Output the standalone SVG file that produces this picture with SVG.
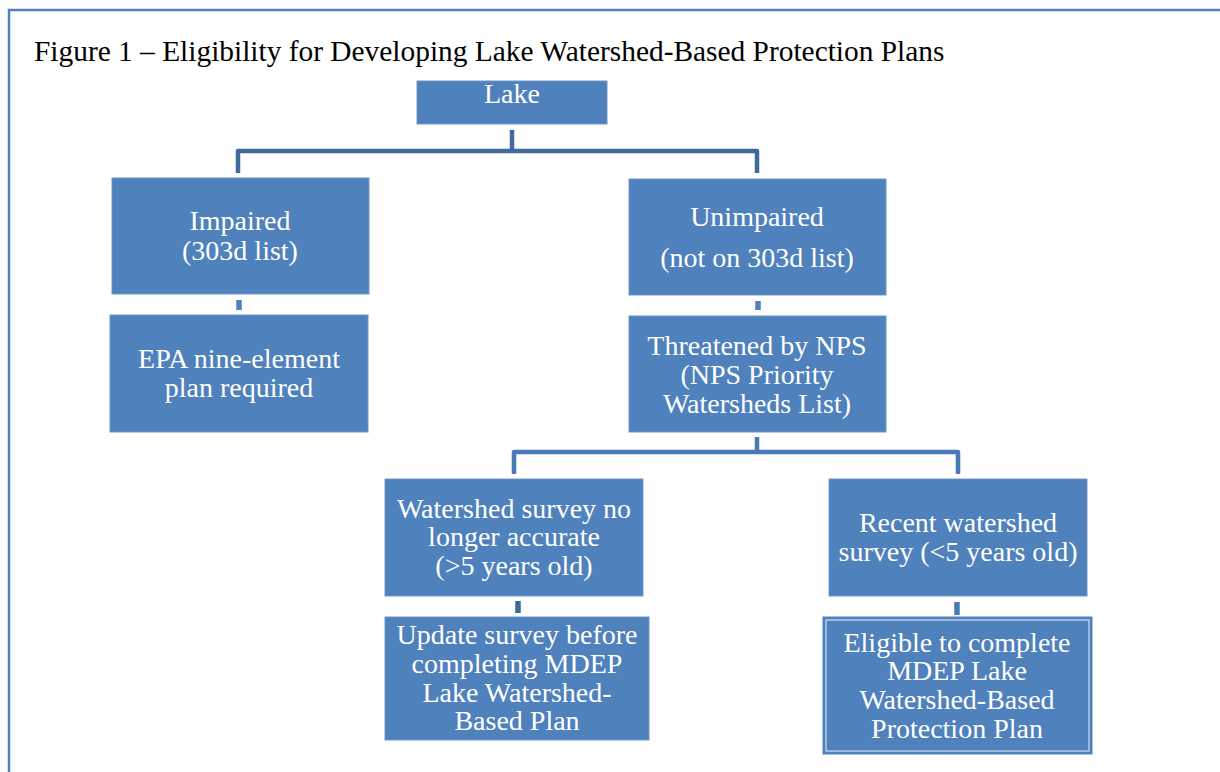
<svg xmlns="http://www.w3.org/2000/svg" width="1220" height="772" viewBox="0 0 1220 772">
<style>
.box{fill:#4F81BD;stroke:#6F97C8;stroke-width:1}
.t{font-family:"Liberation Serif","Times New Roman",serif;font-size:28px;fill:#FFFFFF;text-anchor:middle}
.title{font-family:"Liberation Serif","Times New Roman",serif;font-size:29.4px;fill:#000000}
.conn{fill:none;stroke:#3F6A9A;stroke-width:4.5;stroke-linejoin:round}
.conn2{fill:none;stroke:#4A7AB5;stroke-width:4.5;stroke-linejoin:round}
.stub{stroke-width:5.5;fill:none}
</style>
<rect width="1220" height="772" fill="#FFFFFF"/>
<rect x="9" y="10" width="1240" height="800" fill="none" stroke="#4F81BD" stroke-width="2.5"/>
<text class="title" x="34" y="61">Figure 1 – Eligibility for Developing Lake Watershed-Based Protection Plans</text>
<g id="connectors">
<path class="conn" d="M512,130 V151"/>
<path class="conn" d="M238,173 V151 H757 V173"/>
<path class="stub" stroke="#4F81BD" d="M239,300 V310"/>
<path class="stub" stroke="#4F81BD" d="M758,301 V310"/>
<path class="conn2" d="M757,437 V452"/>
<path class="conn2" d="M514,474 V452 H958 V474"/>
<path class="stub" stroke="#3E6A9A" d="M518,601 V613"/>
<path class="stub" stroke="#4A78B0" d="M957,602 V615"/>
</g>
<g id="lake">
<rect class="box" x="417" y="81" width="190" height="43"/>
<text class="t" x="512" y="103">Lake</text>
</g>
<g id="impaired">
<rect class="box" x="112" y="178" width="257" height="116"/>
<text class="t" x="240" y="230">Impaired</text>
<text class="t" x="240" y="260">(303d list)</text>
</g>
<g id="unimpaired">
<rect class="box" x="629" y="179" width="257" height="116"/>
<text class="t" x="757" y="226">Unimpaired</text>
<text class="t" x="757" y="267">(not on 303d list)</text>
</g>
<g id="epa">
<rect class="box" x="110" y="315" width="258" height="117"/>
<text class="t" x="239" y="368">EPA nine-element</text>
<text class="t" x="239" y="397">plan required</text>
</g>
<g id="threatened">
<rect class="box" x="629" y="316" width="257" height="116"/>
<text class="t" x="757" y="355">Threatened by NPS</text>
<text class="t" x="757" y="384">(NPS Priority</text>
<text class="t" x="757" y="413">Watersheds List)</text>
</g>
<g id="watershed-old">
<rect class="box" x="385" y="479" width="258" height="117"/>
<text class="t" x="514" y="518">Watershed survey no</text>
<text class="t" x="514" y="546">longer accurate</text>
<text class="t" x="514" y="575">(&gt;5 years old)</text>
</g>
<g id="recent">
<rect class="box" x="829" y="479" width="258" height="117"/>
<text class="t" x="958" y="532">Recent watershed</text>
<text class="t" x="958" y="561">survey (&lt;5 years old)</text>
</g>
<g id="update">
<rect class="box" x="385" y="617" width="264" height="123"/>
<text class="t" x="517" y="644">Update survey before</text>
<text class="t" x="517" y="673">completing MDEP</text>
<text class="t" x="517" y="702">Lake Watershed-</text>
<text class="t" x="517" y="730">Based Plan</text>
</g>
<g id="eligible">
<rect x="823" y="617" width="269" height="137" fill="#4F81BD" stroke="#4F81BD" stroke-width="1"/>
<rect x="826" y="620" width="263" height="131" fill="none" stroke="#E8EEF7" stroke-width="1"/>
<text class="t" x="957" y="652">Eligible to complete</text>
<text class="t" x="957" y="680">MDEP Lake</text>
<text class="t" x="957" y="709">Watershed-Based</text>
<text class="t" x="957" y="738">Protection Plan</text>
</g>
</svg>
